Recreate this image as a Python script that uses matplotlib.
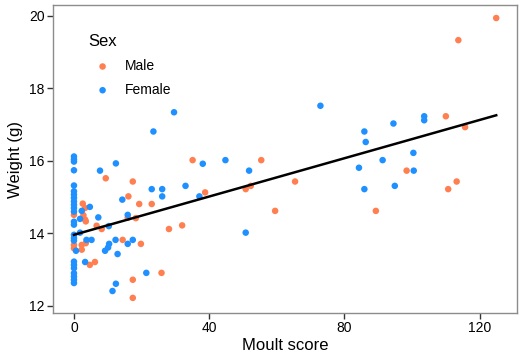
import matplotlib
matplotlib.use("Agg")
import matplotlib.pyplot as plt
import numpy as np

plt.rcParams['font.family'] = ['Liberation Sans', 'DejaVu Sans']

# moult score vs body weight, split by sex
male_moult = [0, 0, 0, 2.6, 3.3, 2.8, 3.3, 3.5, 2.3, 3.5, 2.3, 4.7, 6.2, 6.7, 8.2,
              9.4, 14.4, 15.9, 16.1, 17.4, 17.4, 17.4, 18.3, 19.3, 19.8, 23, 25.9,
              28.1, 32, 35.1, 38.8, 50.8, 52.3, 55.4, 59.5, 65.4, 89.3, 98.4, 110,
              110.7, 113.2, 113.7, 115.7, 124.9]
male_weight = [14.51, 13.68, 13.59, 14.82, 14.7, 14.5, 14.38, 14.33, 13.68, 13.73,
               13.55, 13.13, 13.21, 14.21, 14.12, 15.52, 13.82, 14.43, 15.02, 15.43,
               12.72, 12.22, 14.42, 14.81, 13.71, 14.81, 12.91, 14.12, 14.22, 16.02,
               15.13, 15.22, 15.31, 16.02, 14.62, 15.43, 14.62, 15.73, 17.23, 15.22,
               15.43, 19.33, 16.93, 19.94]

female_moult = [0] * 24 + [0.6, 1.8, 1.8, 2.3, 3.3, 3.7, 4.7, 5.2, 7.2, 7.7, 9.2,
                           10.3, 10.4, 10.1, 11.4, 12.3, 12.4, 12.4, 12.9, 14.3,
                           15.9, 15.9, 17.4, 21.4, 23.5, 23, 26.1, 26.1, 29.6, 33,
                           37.1, 38.1, 44.8, 50.8, 51.8, 72.9, 84.3, 85.9, 86.3,
                           85.9, 91.3, 94.5, 94.9, 100.4, 100.5, 103.6, 103.6]
female_weight = [16.12, 16.04, 15.98, 15.74, 15.32, 15.16, 15.07, 14.98, 14.88,
                 14.79, 14.70, 14.60, 14.32, 14.24, 13.96, 13.87, 13.80, 13.22,
                 13.13, 13.04, 12.90, 12.81, 12.72, 12.63,
                 13.52, 14.02, 14.4, 14.62, 13.21, 13.82, 14.73, 13.82, 14.44,
                 15.73, 13.52, 14.2, 13.71, 13.61, 12.41, 13.82, 15.93, 12.61,
                 13.43, 14.93, 14.51, 13.71, 13.82, 12.91, 16.81, 15.22, 15.22,
                 15.02, 17.34, 15.31, 15.02, 15.92, 16.02, 14.02, 15.73, 17.52,
                 15.81, 16.81, 16.52, 15.22, 16.02, 17.03, 15.31, 16.22, 15.73,
                 17.23, 17.12]

# linear fit shown on the plot
fit_intercept = 13.96
fit_slope = 0.0264

male_col = "#FF7F50"
female_col = "#1E90FF"

fig = plt.figure(figsize=(5.29, 3.55), dpi=100)
ax = fig.add_axes([0.1002, 0.118, 0.8768, 0.868])

ax.scatter(male_moult, male_weight, s=22, color=male_col, edgecolors="none",
           label="Male", zorder=2)
ax.scatter(female_moult, female_weight, s=22, color=female_col, edgecolors="none",
           label="Female", zorder=2)

xs = np.array([0, max(male_moult + female_moult)])
ax.plot(xs, fit_intercept + fit_slope * xs, color="black", lw=1.8, zorder=3)

ax.set_xlim(-6.2, 131)
ax.set_ylim(11.8, 20.3)
ax.set_xticks([0, 40, 80, 120])
ax.set_yticks([12, 14, 16, 18, 20])
ax.set_xlabel("Moult score", fontsize=12, labelpad=2)
ax.set_ylabel("Weight (g)", fontsize=12, labelpad=4)
ax.tick_params(labelsize=10, length=4, width=1, color="#333333", pad=2)

for s in ax.spines.values():
    s.set_color("#8c8c8c")
    s.set_linewidth(1.0)

leg = ax.legend(title="Sex", loc="upper left", bbox_to_anchor=(0.05, 0.945),
                frameon=False, fontsize=10, title_fontsize=12,
                handletextpad=0.6, labelspacing=0.7, markerscale=1.0)
leg._legend_box.align = "left"

fig.savefig("out.png", dpi=100)
